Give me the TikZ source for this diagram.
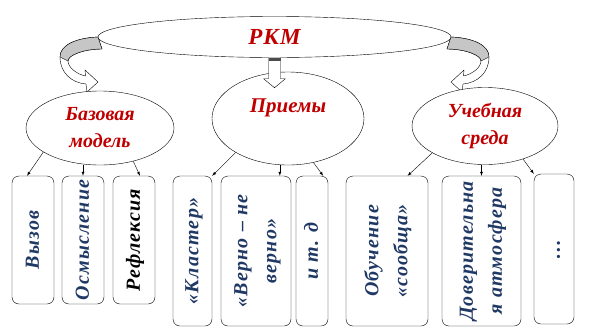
\documentclass[tikz,border=0pt]{standalone}
\usepackage{fontspec}
\setmainfont{Liberation Serif}
\usepackage{graphicx}
\usepackage{xcolor}
\usetikzlibrary{arrows}
\usetikzlibrary{shapes.geometric, calc}

\definecolor{rkmred}{HTML}{C00000}
\definecolor{rkmblue}{HTML}{1F3864}
\newcommand{\vtxt}[1]{\rotatebox{90}{\begin{tabular}{@{}c@{}}#1\end{tabular}}}

\tikzset{
  ell/.style={ellipse, draw, fill=white, inner sep=0pt},
  ttl/.style={text=rkmred, font=\bfseries\itshape\fontsize{20}{27}\selectfont, align=center},
  box/.style={draw, rounded corners=7pt, fill=white, inner sep=0pt, text=rkmblue,
    font=\bfseries\itshape\fontsize{20}{29}\selectfont\addfontfeatures{LetterSpace=6}},
  arr/.style={-latex, thin},
  blk/.style={draw, fill=white, line join=round},
  bendarr/.pic={
    \draw[fill=white, line join=round] (0,0) .. controls (-22,1) and (-38,8) .. (-38,20)
      .. controls (-38,36) and (-26,46) .. (-12,47) -- (-11,55) -- (0,45) -- (-13,33) -- (-12.5,39)
      .. controls (-22,37) and (-30,30) .. (-30,24) .. controls (-30,18) and (-14,12) .. (4,12) -- cycle;
    \draw[fill=gray!45] (0,0) .. controls (-22,1) and (-38,8) .. (-38,20) -- (-30,24)
      .. controls (-30,18) and (-14,12) .. (4,12) -- cycle;
  }
}

\begin{document}
\begin{tikzpicture}[x=1pt,y=-1pt]
\useasboundingbox (0,0) rectangle (592,330);

\coordinate (lft) at (98,37);
\coordinate (rgt) at (451,37);
\pic at (lft) {bendarr};
\pic[xscale=-1] at (rgt) {bendarr};

\node[ell, ttl, font=\bfseries\itshape\fontsize{23}{26}\selectfont\addfontfeatures{LetterSpace=5},
  minimum width=353pt, minimum height=41pt] (rkm) at (274.5,37) {РКМ};

% second row
\node[ell, ttl, minimum width=148pt, minimum height=74pt] (base) at (100,128) {Базовая\\модель};
\node[ell, minimum width=152pt, minimum height=93pt] (prm) at (288,118.5) {};
\node[ttl, font=\bfseries\itshape\fontsize{21}{27}\selectfont] (prm-t) at ($(prm.center)+(0,-11)$) {Приемы};
\node[ell, ttl, minimum width=146pt, minimum height=77pt] (uch) at (485,126) {Учебная\\среда};

\draw[blk] ([xshift=-6pt]rkm.south) -- ++(0,21) -- ++(-5,0) -- ++(11,9) -- ++(11,-9) -- ++(-5,0) -- ++(0,-21);
\fill[black!70] ([xshift=-6pt]rkm.south) rectangle ++(12,3);

% boxes
\node[box, minimum width=42pt, minimum height=128pt] (vyz) at (33,240) {\vtxt{Вызов}};
\node[box, minimum width=42pt, minimum height=128pt] (osm) at (83,240) {\vtxt{Осмысление}};
\node[box, text=black, minimum width=42pt, minimum height=128pt] (ref) at (134,240) {\vtxt{Рефлексия}};
\node[box, minimum width=39pt, minimum height=150pt] (kla) at (192.5,251) {\vtxt{«Кластер»}};
\node[box, minimum width=70pt, minimum height=150pt] (ver) at (256,251) {\vtxt{«Верно – не\\верно»}};
\node[box, minimum width=32pt, minimum height=150pt] (itd) at (312,251) {\vtxt{и т. д}};
\node[box, minimum width=82pt, minimum height=150pt] (obu) at (387,251) {\vtxt{Обучение\\«сообща»}};
\node[box, minimum width=79pt, minimum height=150pt] (dov) at (481.5,251) {\vtxt{Доверительна\\я атмосфера}};
\node[box, minimum width=40pt, minimum height=150pt] (dts) at (554,249) {\vtxt{…}};

\draw[arr] (base.203) -- ([xshift=-6pt]vyz.north);
\draw[arr] (base.south -| osm.north) -- (osm.north);
\draw[arr] (base.315) -- ([xshift=6pt]ref.north);
\draw[arr] (prm.213) -- (kla.north east);
\draw[arr] (prm.260) -- (prm.260 |- ver.north);
\draw[arr] (prm.300) -- ([xshift=-5pt]itd.north east);
\draw[arr] (uch.207) -- ($(obu.north)!.5!(obu.north east)$);
\draw[arr] (uch.south -| dov.north) -- (dov.north);
\draw[arr] (uch.319) -- (dts.north west);
\end{tikzpicture}
\end{document}
